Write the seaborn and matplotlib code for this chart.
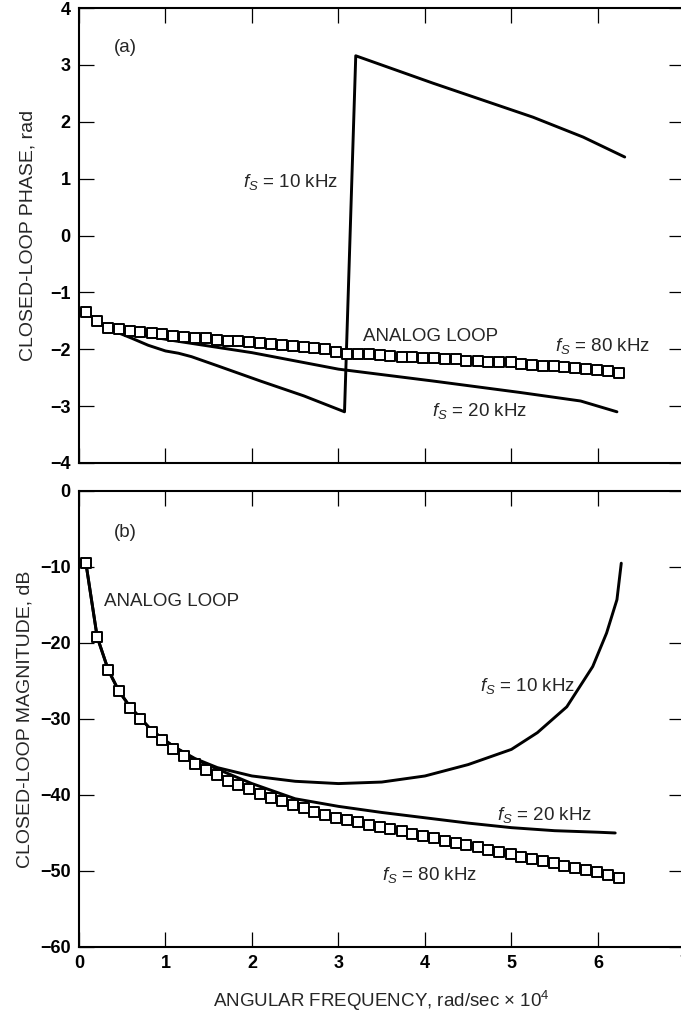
import matplotlib
matplotlib.use("Agg")
import matplotlib.pyplot as plt
import seaborn as sns

# angular frequency in rad/sec x 1e4
analog_w = [0.08, 0.21, 0.33, 0.46, 0.59, 0.71, 0.84, 0.96, 1.09, 1.21,
            1.34, 1.47, 1.59, 1.72, 1.84, 1.97, 2.09, 2.22, 2.35, 2.47,
            2.60, 2.72, 2.85, 2.97, 3.10, 3.23, 3.35, 3.48, 3.60, 3.73,
            3.85, 3.98, 4.11, 4.23, 4.36, 4.48, 4.61, 4.73, 4.86, 4.99,
            5.11, 5.24, 5.36, 5.49, 5.61, 5.74, 5.86, 5.99, 6.12, 6.24]
analog_phase = [-1.35, -1.50, -1.62, -1.65, -1.68, -1.70, -1.72, -1.74, -1.76, -1.78,
                -1.80, -1.81, -1.83, -1.85, -1.86, -1.88, -1.89, -1.91, -1.92, -1.94,
                -1.96, -1.98, -2.00, -2.04, -2.08, -2.08, -2.09, -2.10, -2.12, -2.13,
                -2.14, -2.15, -2.16, -2.17, -2.18, -2.20, -2.21, -2.22, -2.23, -2.23,
                -2.26, -2.28, -2.29, -2.30, -2.31, -2.33, -2.34, -2.36, -2.38, -2.41]
analog_mag = [-9.5, -19.2, -23.6, -26.3, -28.5, -30.0, -31.7, -32.8, -33.9, -34.9,
              -35.9, -36.7, -37.4, -38.2, -38.7, -39.2, -39.9, -40.4, -40.8, -41.3,
              -41.7, -42.2, -42.6, -43.0, -43.3, -43.6, -43.9, -44.2, -44.5, -44.8,
              -45.1, -45.4, -45.7, -46.0, -46.3, -46.6, -46.9, -47.2, -47.5, -47.8,
              -48.1, -48.4, -48.7, -49.0, -49.3, -49.6, -49.9, -50.2, -50.5, -50.9]

# sampled loops, phase (rad)
fs10_phase_w = [0.08, 0.21, 0.34, 0.60, 0.80, 1.00, 1.15, 1.30, 1.60, 2.10,
                2.60, 3.07, 3.20, 4.09, 5.25, 5.83, 6.31]
fs10_phase = [-1.35, -1.50, -1.64, -1.80, -1.93, -2.03, -2.07, -2.13, -2.29, -2.56,
              -2.82, -3.10, 3.16, 2.68, 2.08, 1.73, 1.38]
fs20_phase_w = [0.08, 0.21, 0.34, 0.60, 1.10, 2.00, 3.00, 4.10, 5.10, 5.80, 6.22]
fs20_phase = [-1.35, -1.50, -1.63, -1.72, -1.85, -2.06, -2.35, -2.56, -2.76, -2.91, -3.10]

# sampled loops, magnitude (dB)
fs10_mag_w = [0.08, 0.21, 0.34, 0.46, 0.59, 0.84, 1.09, 1.34, 1.60, 2.00, 2.50,
              3.00, 3.50, 4.00, 4.50, 5.00, 5.30, 5.64, 5.94, 6.10, 6.22, 6.27]
fs10_mag = [-9.5, -19.2, -23.6, -26.3, -28.4, -31.5, -33.6, -35.2, -36.4, -37.5, -38.2,
            -38.5, -38.3, -37.5, -36.0, -34.0, -31.8, -28.4, -23.1, -18.7, -14.3, -9.5]
fs20_mag_w = [0.08, 0.21, 0.34, 0.46, 0.59, 0.84, 1.09, 1.34, 1.60, 2.00, 2.50,
              3.00, 3.50, 4.00, 4.50, 5.00, 5.50, 6.00, 6.20]
fs20_mag = [-9.5, -19.2, -23.6, -26.3, -28.4, -31.5, -33.6, -35.3, -36.6, -38.5, -40.5,
            -41.5, -42.3, -43.0, -43.7, -44.3, -44.7, -44.9, -45.0]

x_ticks = [0, 1, 2, 3, 4, 5, 6, 7]
phase_ticks = [4, 3, 2, 1, 0, -1, -2, -3, -4]
mag_ticks = [0, -10, -20, -30, -40, -50, -60]

sns.set_style("ticks")
plt.rcParams["font.family"] = ["Liberation Sans", "DejaVu Sans"]
plt.rcParams["mathtext.fontset"] = "custom"
plt.rcParams["mathtext.it"] = "Liberation Sans:italic"
plt.rcParams["mathtext.rm"] = "Liberation Sans"

LW = 2.1
TXT = 13.5


def style_axis(ax, yticks, ylim, show_x):
    ax.set_xlim(0, 7)
    ax.set_ylim(*ylim)
    ax.set_xticks(x_ticks)
    ax.set_yticks(yticks)
    for side in ["left", "right", "top", "bottom"]:
        ax.spines[side].set_visible(True)
        ax.spines[side].set_linewidth(1.5)
        ax.spines[side].set_color("black")
    ax.tick_params(direction="in", length=10.5, width=0.9, top=True, right=True,
                   labelsize=13, colors="black", pad=6)
    if not show_x:
        ax.tick_params(labelbottom=False)
    plt.setp(ax.get_xticklabels(), fontweight="bold")
    plt.setp(ax.get_yticklabels(), fontweight="bold")


def squares(ax, x, y):
    sns.scatterplot(x=x, y=y, ax=ax, marker="s", s=46, facecolor="white",
                    edgecolor="black", linewidth=1.4, zorder=5)


def curve(ax, x, y):
    sns.lineplot(x=x, y=y, ax=ax, color="black", linewidth=LW,
                 estimator=None, sort=False, zorder=3)


fig = plt.figure(figsize=(6.81, 10.14), dpi=100)
ax_a = fig.add_axes([0.116, 0.5434, 0.889, 0.4487])
ax_b = fig.add_axes([0.116, 0.0661, 0.889, 0.4497])

# (a) phase
curve(ax_a, fs10_phase_w, fs10_phase)
curve(ax_a, fs20_phase_w, fs20_phase)
squares(ax_a, analog_w, analog_phase)
style_axis(ax_a, phase_ticks, (-4, 4), False)
ax_a.set_ylabel("CLOSED-LOOP PHASE, rad", fontsize=14, labelpad=10)
ax_a.text(0.40, 3.31, "(a)", fontsize=TXT, va="center")
ax_a.text(1.90, 0.94, r"$f_S$ = 10 kHz", fontsize=TXT, va="center")
ax_a.text(3.28, -1.78, "ANALOG LOOP", fontsize=TXT, va="center")
ax_a.text(5.50, -1.94, r"$f_S$ = 80 kHz", fontsize=TXT, va="center")
ax_a.text(4.08, -3.09, r"$f_S$ = 20 kHz", fontsize=TXT, va="center")

# (b) magnitude
curve(ax_b, fs10_mag_w, fs10_mag)
curve(ax_b, fs20_mag_w, fs20_mag)
squares(ax_b, analog_w, analog_mag)
style_axis(ax_b, mag_ticks, (-60, 0), True)
ax_b.set_ylabel("CLOSED-LOOP MAGNITUDE, dB", fontsize=14, labelpad=5)
ax_b.set_xlabel(r"ANGULAR FREQUENCY, rad/sec $\times$ 10$^4$", fontsize=TXT, labelpad=12)
ax_b.text(0.40, -5.4, "(b)", fontsize=TXT, va="center")
ax_b.text(0.29, -14.6, "ANALOG LOOP", fontsize=TXT, va="center")
ax_b.text(4.64, -25.7, r"$f_S$ = 10 kHz", fontsize=TXT, va="center")
ax_b.text(4.83, -42.6, r"$f_S$ = 20 kHz", fontsize=TXT, va="center")
ax_b.text(3.50, -50.5, r"$f_S$ = 80 kHz", fontsize=TXT, va="center")

fig.savefig("out.png", dpi=100)
plt.close(fig)
